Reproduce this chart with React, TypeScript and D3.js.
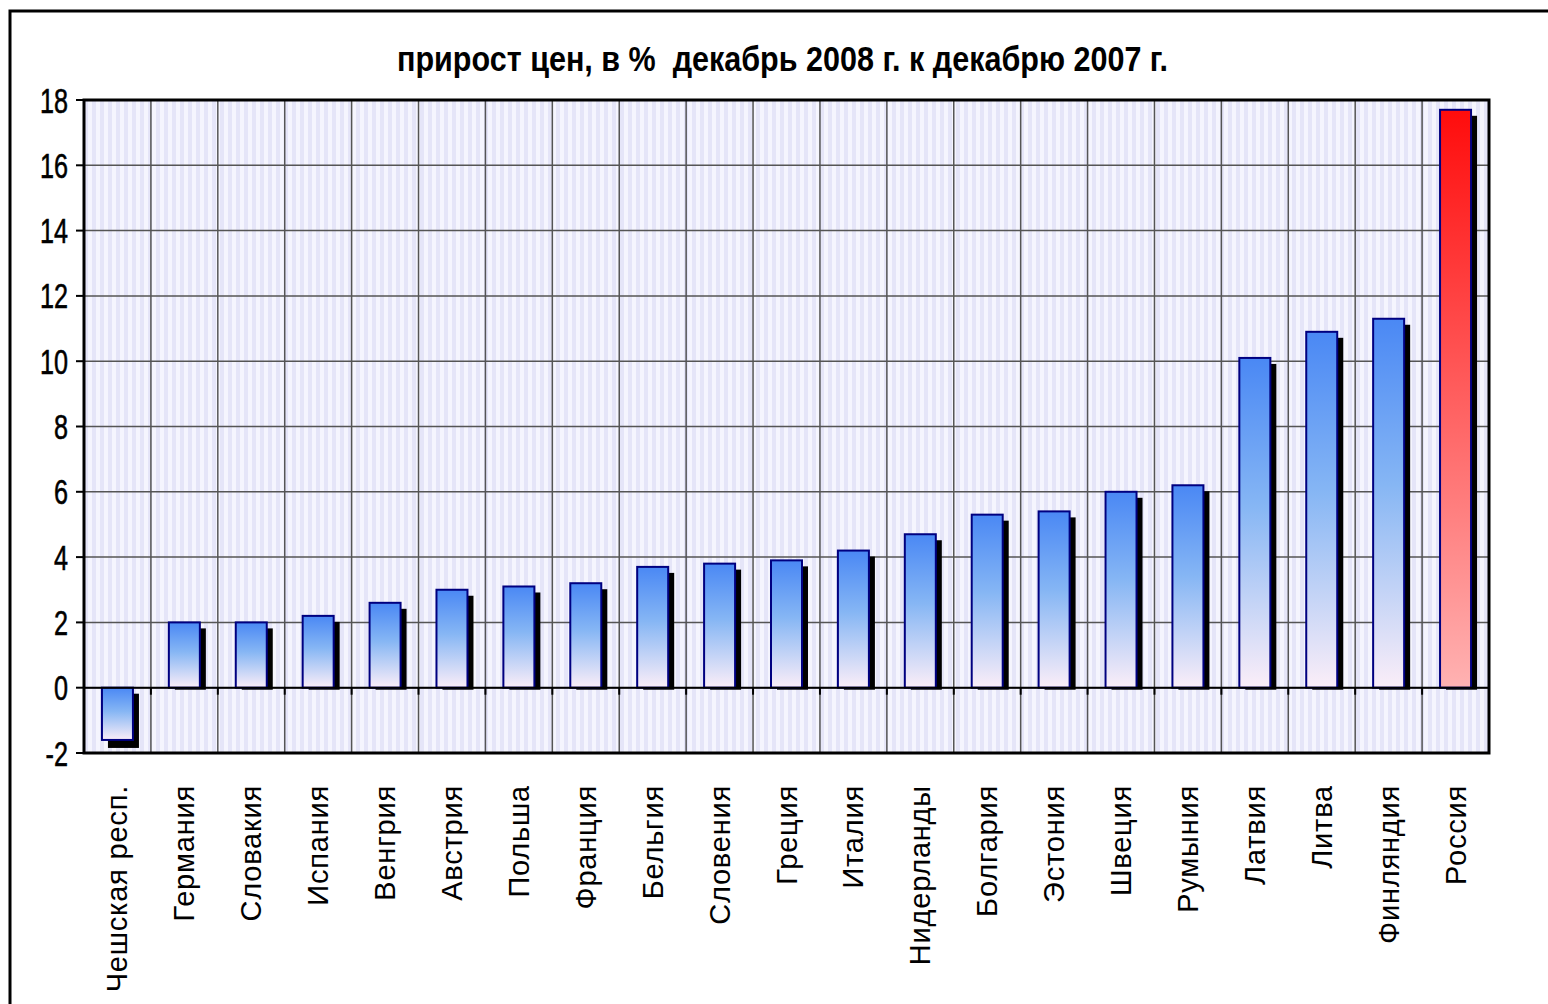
import React from "react";
import * as d3 from "d3";

const title = "прирост цен, в %  декабрь 2008 г. к декабрю 2007 г.";
const countries = [
  "Чешская респ.", "Германия", "Словакия", "Испания", "Венгрия", "Австрия",
  "Польша", "Франция", "Бельгия", "Словения", "Греция", "Италия",
  "Нидерланды", "Болгария", "Эстония", "Швеция", "Румыния", "Латвия",
  "Литва", "Финляндия", "Россия",
];
const values = [
  -1.6, 2.0, 2.0, 2.2, 2.6, 3.0, 3.1, 3.2, 3.7, 3.8, 3.9, 4.2, 4.7, 5.3, 5.4,
  6.0, 6.2, 10.1, 10.9, 11.3, 17.7,
];
const yTicks = [-2, 0, 2, 4, 6, 8, 10, 12, 14, 16, 18];
const highlight = "Россия";

export default function App() {
  const W = 1548, H = 1004;
  const m = { left: 84, right: 1489, top: 100, bottom: 753 };
  const x = d3.scaleBand<string>().domain(countries).range([m.left, m.right]).paddingInner(0).paddingOuter(0);
  const y = d3.scaleLinear().domain([-2, 18]).range([m.bottom, m.top]);
  const bw = 31;
  const y0 = y(0);
  const boundaries = d3.range(countries.length + 1).map((i) => m.left + i * x.step());
  const font = "'Liberation Sans', Arial, sans-serif";

  return (
    <svg width={W} height={H} style={{ position: "absolute", left: 0, top: 0, background: "#fff" }}>
      <defs>
        <pattern id="stripes" patternUnits="userSpaceOnUse" width="8" height="10" x={m.left}>
          <rect width="8" height="10" fill="#f5f5fe" />
          <rect x="0" width="4" height="10" fill="#e5e5f8" />
        </pattern>
        <linearGradient id="gBlue" x1="0" y1="0" x2="0" y2="1">
          <stop offset="0%" stopColor="#4a88f4" />
          <stop offset="45%" stopColor="#86b6f4" />
          <stop offset="100%" stopColor="#fbeef8" />
        </linearGradient>
        <linearGradient id="gRed" x1="0" y1="0" x2="0" y2="1">
          <stop offset="0%" stopColor="#ff0c0c" />
          <stop offset="100%" stopColor="#ffb2b2" />
        </linearGradient>
      </defs>
      {/* outer frame */}
      <rect x={10} y={11} width={1545} height={1010} fill="none" stroke="#000" strokeWidth={3} />
      {/* title */}
      <text x={397} y={71} textLength={771} lengthAdjust="spacingAndGlyphs" fontFamily={font}
        fontWeight="bold" fontSize={35} fill="#000" style={{ whiteSpace: "pre" }}>{title}</text>
      {/* plot background */}
      <rect x={m.left} y={m.top} width={m.right - m.left} height={m.bottom - m.top} fill="url(#stripes)" />
      {/* horizontal grid */}
      {yTicks.map((t) => (
        <line key={"h" + t} x1={m.left} x2={m.right} y1={y(t)} y2={y(t)} stroke="#555" strokeWidth={1.5} />
      ))}
      {/* vertical grid */}
      {boundaries.map((b, i) => (
        <line key={"v" + i} x1={b} x2={b} y1={m.top} y2={m.bottom} stroke="#555" strokeWidth={1.5} />
      ))}
      {/* y ticks & labels */}
      {yTicks.map((t) => (
        <g key={"yt" + t}>
          <line x1={76} x2={m.left} y1={y(t)} y2={y(t)} stroke="#000" strokeWidth={2} />
          <text transform={`translate(68,${y(t) + 12.5}) scale(0.7,1)`} textAnchor="end" fontFamily={font}
            fontSize={36} fill="#000" stroke="#000" strokeWidth={0.6}>{t}</text>
        </g>
      ))}
      {/* bars */}
      {countries.map((c, i) => {
        const v = values[i];
        const cx = (x(c) as number) + x.bandwidth() / 2;
        const top = Math.min(y(v), y0);
        const bot = Math.max(y(v), y0);
        const left = cx - bw / 2;
        const shadowBot = v >= 0 ? y0 + 2 : bot + 8;
        return (
          <g key={c}>
            <rect x={left + 6} y={top + 6} width={bw} height={shadowBot - top - 6} fill="#000" />
            <rect x={left} y={top} width={bw} height={bot - top}
              fill={c === highlight ? "url(#gRed)" : "url(#gBlue)"} stroke="#000080" strokeWidth={2} />
          </g>
        );
      })}
      {/* zero line & ticks */}
      <line x1={m.left} x2={m.right} y1={y0} y2={y0} stroke="#000" strokeWidth={2} />
      {boundaries.slice(1, -1).map((b, i) => (
        <line key={"xt" + i} x1={b} x2={b} y1={y0} y2={y0 + 7} stroke="#000" strokeWidth={2} />
      ))}
      {/* plot border */}
      <rect x={m.left} y={m.top} width={m.right - m.left} height={m.bottom - m.top} fill="none" stroke="#000" strokeWidth={3} />
      {/* x labels */}
      {countries.map((c) => {
        const cx = (x(c) as number) + x.bandwidth() / 2 + 10;
        return (
          <text key={"xl" + c} transform={`translate(${cx},785) rotate(-90)`} textAnchor="end"
            fontFamily={font} fontSize={29} letterSpacing={0.8} fill="#000">{c}</text>
        );
      })}
    </svg>
  );
}
